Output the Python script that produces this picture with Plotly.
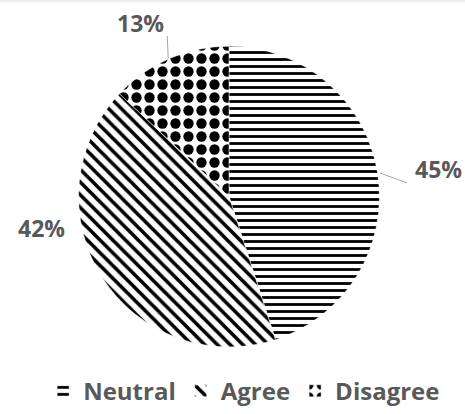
import math
import plotly.graph_objects as go

# Survey responses
categories = ["Neutral", "Agree", "Disagree"]
shares = [45, 42, 13]
patterns = ["-", "\\", "."]
pattern_sizes = [7, 9, 13]
pattern_solidity = [0.4, 0.4, 0.5]

W, H = 465, 414
CX, CY, R = 229, 200, 153  # pie centre / radius in pixels

# label placement relative to each slice's outer mid-point (pixels)
label_offsets = [(58, -4), (-58, -50), (-28, -36)]
leader_ends = [(27, 10), None, (-1, -23)]

GREY = "#595959"


def px(x, y):
    return x / W, 1 - y / H


fig = go.Figure(
    go.Pie(
        labels=categories,
        values=shares,
        sort=False,
        direction="clockwise",
        rotation=0,
        textinfo="none",
        hoverinfo="label+percent",
        marker=dict(
            colors=["white"] * 3,
            line=dict(color="white", width=0.5),
            pattern=dict(
                shape=patterns,
                fgcolor="black",
                bgcolor="white",
                fgopacity=1,
                size=pattern_sizes,
                solidity=pattern_solidity,
                fillmode="replace",
            ),
        ),
        domain=dict(
            x=[(CX - R) / W, (CX + R) / W],
            y=[1 - (CY + R) / H, 1 - (CY - R) / H],
        ),
    )
)

total = sum(shares)
start = 0.0
annotations = []
shapes = []
for val, off, lead in zip(shares, label_offsets, leader_ends):
    frac = val / total
    mid = (start + frac / 2) * 2 * math.pi
    start += frac
    ax = CX + R * math.sin(mid)
    ay = CY - R * math.cos(mid)
    lx, ly = px(ax + off[0], ay + off[1])
    annotations.append(
        dict(
            x=lx, y=ly, xref="paper", yref="paper",
            xanchor="center", yanchor="middle",
            text=f"{round(frac * 100)}%", showarrow=False,
            font=dict(family="Open Sans", size=23, color=GREY, weight="bold"),
        )
    )
    if lead:
        x0, y0 = px(ax, ay)
        x1, y1 = px(ax + lead[0], ay + lead[1])
        shapes.append(
            dict(type="line", xref="paper", yref="paper",
                 x0=x0, y0=y0, x1=x1, y1=y1,
                 line=dict(color="#a6a6a6", width=1))
        )

# thin chart frame edge along the top
shapes.append(dict(type="line", xref="paper", yref="paper",
                   x0=0, x1=1, y0=1 - 1 / H, y1=1 - 1 / H,
                   line=dict(color="#d9d9d9", width=1)))

fig.update_layout(
    width=W,
    height=H,
    margin=dict(l=0, r=0, t=0, b=0),
    paper_bgcolor="white",
    plot_bgcolor="white",
    annotations=annotations,
    shapes=shapes,
    showlegend=True,
    legend=dict(
        orientation="h",
        x=0.525, xanchor="center",
        y=(H - 398) / H, yanchor="middle",
        font=dict(family="Open Sans", size=24, color=GREY, weight="bold"),
        itemwidth=30,
    ),
)

fig.write_html("out.html")
